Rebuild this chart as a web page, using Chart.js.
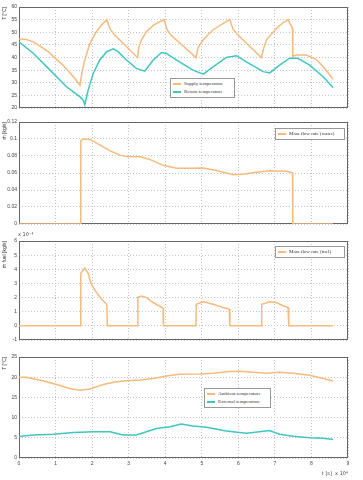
<!DOCTYPE html>
<html>
<head>
<meta charset="utf-8">
<script src="https://cdn.jsdelivr.net/npm/chart.js@4.4.0/dist/chart.umd.min.js"></script>
<style>
  body { margin: 0; background: #fff; width: 363px; height: 480px; overflow: hidden; position: relative; }
  .panel { position: absolute; left: 0; }
  .legend { position: absolute; background: #fff; border: 1px solid #999; font: 5px "Liberation Serif", serif; color: #333; padding: 1px 2px; line-height: 8px; white-space: nowrap; }
  .sw { display: inline-block; width: 8px; height: 1.5px; vertical-align: middle; margin-right: 3px; }
  .note { position: absolute; font: 5px "DejaVu Sans", sans-serif; color: #444; }
</style>
</head>
<body>
<canvas id="c1" class="panel" width="363" height="115" style="top:0"></canvas>
<canvas id="c2" class="panel" width="363" height="115" style="top:115px"></canvas>
<canvas id="c3" class="panel" width="363" height="115" style="top:230px"></canvas>
<canvas id="c4" class="panel" width="363" height="135" style="top:345px"></canvas>

<div class="legend" style="left:170px;top:78px;width:59px">
  <div><span class="sw" style="background:#f5bb7e"></span>Supply temperature</div>
  <div><span class="sw" style="background:#3ec6bf"></span>Return temperature</div>
</div>
<div class="legend" style="left:275px;top:128px;width:64px">
  <div><span class="sw" style="background:#f5bb7e"></span>Mass flow rate (water)</div>
</div>
<div class="legend" style="left:275px;top:246px;width:64px">
  <div><span class="sw" style="background:#f5bb7e"></span>Mass flow rate (fuel)</div>
</div>
<div class="legend" style="left:204px;top:388px;width:61px">
  <div><span class="sw" style="background:#f5bb7e"></span>Ambient temperature</div>
  <div><span class="sw" style="background:#3ec6bf"></span>External temperature</div>
</div>
<div class="note" style="left:18px;top:231px">x 10⁻⁴</div>

<script>
// time in units of 10^4 s
const supplyTemp = [
  [0, 47.3], [0.2, 47.1], [0.4, 46.2], [0.8, 42.3], [1.2, 37.0], [1.5, 32.2], [1.67, 29.0],
  [1.72, 34], [1.8, 39], [1.94, 45.6], [2.12, 50.3], [2.25, 52.8], [2.4, 55.0],
  [2.5, 51], [2.6, 49.2], [3.24, 40],
  [3.28, 44], [3.35, 47], [3.49, 50.3], [3.7, 53], [3.97, 55],
  [4.05, 51], [4.15, 49], [4.84, 40],
  [4.9, 44], [5.04, 47], [5.31, 51], [5.6, 53.6], [5.77, 55],
  [5.85, 51.3], [5.95, 49.5], [6.63, 40],
  [6.7, 44], [6.77, 47], [7.04, 51.5], [7.2, 53.5], [7.36, 55],
  [7.43, 53], [7.48, 51.6], [7.49, 40.5], [7.6, 41], [7.86, 41], [8.13, 39.3], [8.36, 35.7], [8.59, 31.4]
];
const returnTemp = [
  [0, 46.2], [0.39, 41.7], [0.85, 35], [1.3, 28.4], [1.67, 24.4], [1.76, 23], [1.8, 21.3],
  [1.89, 27], [2.03, 33.7], [2.21, 39], [2.4, 42.3], [2.58, 43.4], [2.71, 42.3], [2.94, 39],
  [3.21, 35.7], [3.44, 34.6], [3.67, 39], [3.9, 42], [4.03, 41.6], [4.31, 39], [4.76, 35],
  [5.04, 33.4], [5.31, 36.3], [5.67, 40], [5.95, 40.7], [6.22, 38.3], [6.68, 34.4], [6.86, 33.9],
  [7.13, 37], [7.4, 39.7], [7.63, 39.7], [7.95, 37], [8.32, 32.4], [8.59, 28.1]
];
const waterFlow = [
  [0, 0], [1.67, 0], [1.69, 0.098], [1.76, 0.1], [1.94, 0.0995], [2.21, 0.093], [2.49, 0.086],
  [2.76, 0.081], [2.94, 0.0795], [3.31, 0.079], [3.58, 0.076], [3.94, 0.069], [4.31, 0.0655],
  [4.76, 0.0655], [5.04, 0.066], [5.4, 0.063], [5.86, 0.058], [6.13, 0.0585], [6.49, 0.061],
  [6.86, 0.0625], [7.31, 0.062], [7.45, 0.0605], [7.48, 0.06], [7.49, 0], [8.59, 0]
];
// fuel flow in units of 10^-4 kg/s
const fuelFlow = [
  [0, 0], [1.67, 0], [1.69, 3.74], [1.8, 4.09], [1.89, 3.74], [1.98, 2.93], [2.12, 2.35],
  [2.26, 1.88], [2.4, 1.53], [2.42, 0], [3.24, 0], [3.25, 2.0], [3.35, 2.1], [3.49, 2.0],
  [3.67, 1.65], [3.94, 1.26], [3.95, 0], [4.84, 0], [4.85, 1.53], [5.04, 1.7], [5.31, 1.53],
  [5.58, 1.3], [5.75, 1.19], [5.77, 0], [6.63, 0], [6.64, 1.53], [6.86, 1.7], [7.04, 1.65],
  [7.22, 1.42], [7.36, 1.3], [7.38, 0], [8.59, 0]
];
const ambientTemp = [
  [0, 20], [0.21, 20], [0.67, 19.06], [1.03, 18.2], [1.39, 17.2], [1.67, 16.8], [1.94, 17.1],
  [2.3, 18.2], [2.67, 18.9], [2.94, 19.1], [3.31, 19.3], [3.67, 19.7], [4.03, 20.3], [4.4, 20.7],
  [4.95, 20.8], [5.31, 21.0], [5.77, 21.4], [6.04, 21.5], [6.4, 21.2], [6.77, 21.0], [7.13, 21.2],
  [7.5, 21.0], [7.95, 20.5], [8.32, 19.7], [8.59, 19.06]
];
const externalTemp = [
  [0, 5.3], [0.39, 5.7], [0.94, 5.9], [1.49, 6.3], [2.03, 6.5], [2.49, 6.5], [2.85, 5.7],
  [3.21, 5.7], [3.76, 7.3], [4.13, 7.75], [4.44, 8.4], [4.76, 7.9], [5.13, 7.6], [5.67, 6.7],
  [6.22, 6.1], [6.58, 6.5], [6.85, 6.8], [7.13, 5.9], [7.5, 5.4], [7.95, 5.0], [8.32, 4.9], [8.59, 4.6]
];
const timeTicks = [0, 1, 2, 3, 4, 5, 6, 7, 8, 9];

const orange = "#f5bb7e";
const cyan = "#3ec6bf";
const tickFont = { family: "Liberation Sans", size: 5 };
const supFont = { family: "DejaVu Sans", size: 5 };

const frame = {
  id: "frame",
  beforeDatasetsDraw(chart) {
    const a = chart.chartArea, ctx = chart.ctx;
    ctx.save();
    ctx.strokeStyle = "#666";
    ctx.lineWidth = 1;
    ctx.strokeRect(Math.round(a.left) + 0.5, Math.round(a.top) + 0.5,
      Math.round(a.right - a.left) - 1, Math.round(a.bottom - a.top) - 1);
    ctx.restore();
  }
};

function series(pairs, color) {
  return {
    data: pairs.map(([x, y]) => ({ x, y })),
    borderColor: color,
    borderWidth: 1.5,
    pointRadius: 0,
    tension: 0,
    fill: false
  };
}

function makeChart(id, datasets, y, topPad, xHeight, showX) {
  return new Chart(document.getElementById(id), {
    type: "line",
    data: { datasets },
    plugins: [frame],
    options: {
      responsive: false,
      animation: false,
      layout: { padding: { top: topPad, right: 15, left: 0, bottom: 0 } },
      plugins: { legend: { display: false }, tooltip: { enabled: false } },
      scales: {
        x: {
          type: "linear", min: 0, max: 9,
          afterBuildTicks: s => { s.ticks = timeTicks.map(v => ({ value: v })); },
          afterFit: s => { s.height = xHeight; },
          grid: { color: "#c4c4c4", drawTicks: false },
          border: { display: false, dash: [1, 2] },
          ticks: { display: showX, font: tickFont, color: "#444", padding: 3, maxRotation: 0 },
          title: { display: showX, text: "t [s]  x 10⁴", align: "end", font: supFont, color: "#444", padding: { top: 0, bottom: 3 } }
        },
        y: {
          min: y.min, max: y.max,
          afterFit: s => { s.width = 19; },
          grid: { color: "#c4c4c4", drawTicks: false },
          border: { display: false, dash: [1, 2] },
          ticks: { stepSize: y.step, font: tickFont, color: "#444", padding: 2, callback: v => String(+v.toFixed(2)) },
          title: { display: true, text: y.title, align: "end", font: tickFont, color: "#333", padding: { top: 2, bottom: 0 } }
        }
      }
    }
  });
}

makeChart("c1", [series(supplyTemp, orange), series(returnTemp, cyan)],
  { min: 20, max: 60, step: 5, title: "T [°C]" }, 7, 7, false);
makeChart("c2", [series(waterFlow, orange)],
  { min: 0, max: 0.12, step: 0.02, title: "ṁ [kg/s]" }, 7, 6, false);
makeChart("c3", [series(fuelFlow, orange)],
  { min: -1, max: 6, step: 1, title: "ṁ fuel [kg/s]" }, 11, 4, false);
makeChart("c4", [series(ambientTemp, orange), series(externalTemp, cyan)],
  { min: 0, max: 25, step: 5, title: "T [°C]" }, 12, 22, true);
</script>
</body>
</html>
